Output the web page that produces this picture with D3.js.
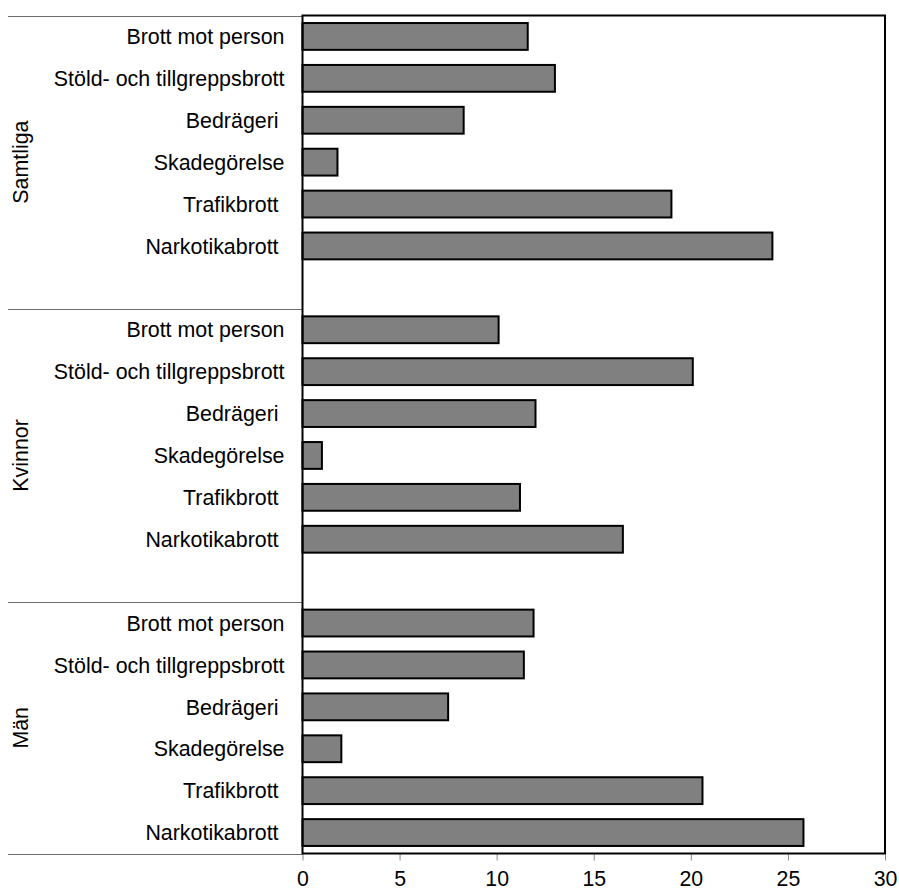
<!DOCTYPE html>
<html>
<head>
<meta charset="utf-8">
<script src="https://cdn.jsdelivr.net/npm/d3@7"></script>
<style>
  html, body { margin: 0; padding: 0; background: #fff; }
  svg { display: block; }
  text { font-family: "Liberation Sans", Arial, Helvetica, sans-serif; fill: #000; }
</style>
</head>
<body>
<svg id="chart" width="899" height="891"></svg>
<script>
const groups = ["Samtliga", "Kvinnor", "Män"];
const categories = ["Brott mot person", "Stöld- och tillgreppsbrott", "Bedrägeri ", "Skadegörelse", "Trafikbrott ", "Narkotikabrott "];
const samtligaValues = [11.6, 13.0, 8.3, 1.8, 19.0, 24.2];
const kvinnorValues = [10.1, 20.1, 12.0, 1.0, 11.2, 16.5];
const manValues = [11.9, 11.4, 7.5, 2.0, 20.6, 25.8];
const xTicks = [0, 5, 10, 15, 20, 25, 30];
const xMax = 30;

const seriesByGroup = [samtligaValues, kvinnorValues, manValues];

const plot = { left: 302.5, right: 885, top: 15.5, bottom: 853.5 };
const sepLeft = 8;

const svg = d3.select("#chart");

const slots = [];
const rows = [];
groups.forEach((g, gi) => {
  categories.forEach((c, ci) => {
    const key = g + "|" + c;
    slots.push(key);
    rows.push({ key, group: g, category: c, value: seriesByGroup[gi][ci] });
  });
  if (gi < groups.length - 1) slots.push("gap" + gi);
});

const x = d3.scaleLinear().domain([0, xMax]).range([plot.left, plot.right]);
const y = d3.scaleBand().domain(slots).range([plot.top, plot.bottom])
  .paddingInner(0.36).paddingOuter(0.18);

const step = y.step();
const slotTop = k => y(k) - (step - y.bandwidth()) / 2;

const groupInfo = groups.map((g, gi) => {
  const start = slotTop(g + "|" + categories[0]);
  const end = gi < groups.length - 1 ? slotTop(groups[gi + 1] + "|" + categories[0]) : plot.bottom;
  return { group: g, start, end };
});

// Left separator lines
const sepYs = [plot.top].concat(groupInfo.slice(1).map(d => d.start)).concat([plot.bottom]);
svg.append("g").selectAll("line").data(sepYs).join("line")
  .attr("x1", sepLeft).attr("x2", plot.left)
  .attr("y1", d => Math.round(d) + 0.5).attr("y2", d => Math.round(d) + 0.5)
  .attr("stroke", "#6e6e6e").attr("stroke-width", 1);

// Bars
svg.append("g").selectAll("rect").data(rows).join("rect")
  .attr("x", x(0))
  .attr("y", d => y(d.key))
  .attr("width", d => x(d.value) - x(0))
  .attr("height", y.bandwidth())
  .attr("fill", "#808080")
  .attr("stroke", "#000")
  .attr("stroke-width", 2);

// X axis
const xAxis = d3.axisBottom(x).tickValues(xTicks).tickSize(7).tickPadding(10).tickFormat(d3.format("d"));
const gx = svg.append("g").attr("transform", `translate(0,${plot.bottom})`).call(xAxis);
gx.select(".domain").remove();
gx.selectAll(".tick line").attr("stroke", "#8a8a8a").attr("stroke-width", 1);
gx.selectAll(".tick text").attr("font-size", 21.3).attr("fill", "#000")
  .attr("font-family", "'Liberation Sans', Arial, sans-serif")
  .attr("dy", "0.71em");

// Plot frame
svg.append("rect")
  .attr("x", plot.left).attr("y", plot.top)
  .attr("width", plot.right - plot.left).attr("height", plot.bottom - plot.top)
  .attr("fill", "none").attr("stroke", "#000").attr("stroke-width", 2);

// Category labels
svg.append("g").selectAll("text").data(rows).join("text")
  .attr("x", plot.left - 18)
  .attr("y", d => y(d.key) + y.bandwidth() / 2)
  .attr("dy", "0.36em")
  .attr("text-anchor", "end")
  .attr("font-size", 21.4)
  .style("white-space", "pre")
  .text(d => d.category);

// Group labels (rotated)
svg.append("g").selectAll("text").data(groupInfo).join("text")
  .attr("transform", d => `translate(28,${(d.start + d.end) / 2}) rotate(-90)`)
  .attr("text-anchor", "middle")
  .attr("font-size", 21.4)
  .text(d => d.group);
</script>
</body>
</html>
